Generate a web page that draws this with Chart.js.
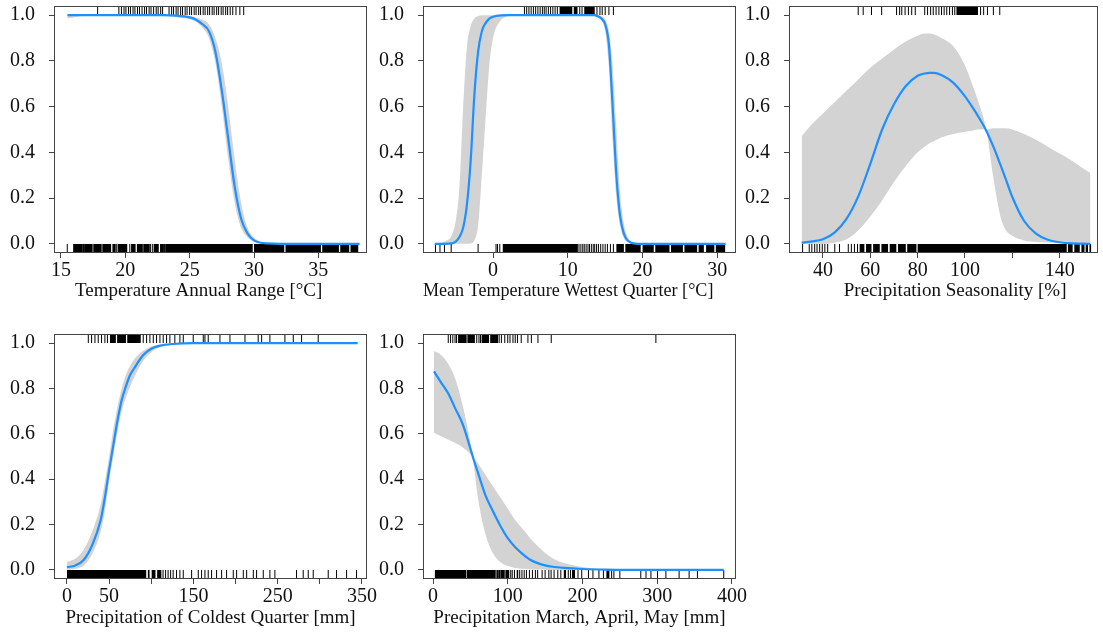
<!DOCTYPE html>
<html>
<head>
<meta charset="utf-8">
<script src="https://cdn.jsdelivr.net/npm/chart.js@4.4.1/dist/chart.umd.min.js"></script>
<style>
  body { margin: 0; background: #fff; width: 1103px; height: 634px; position: relative; overflow: hidden; }
  canvas { position: absolute; }
</style>
</head>
<body>
<canvas id="p1" width="390" height="310" style="left:0;top:0"></canvas>
<canvas id="p2" width="390" height="310" style="left:370px;top:0"></canvas>
<canvas id="p3" width="368" height="310" style="left:735px;top:0"></canvas>
<canvas id="p4" width="390" height="314" style="left:0;top:320px"></canvas>
<canvas id="p5" width="390" height="314" style="left:370px;top:320px"></canvas>
<script>
// ---- data ----
const yTicks = [0, 0.2, 0.4, 0.6, 0.8, 1.0];

// Temperature Annual Range
const p1X     = [15.5, 17, 19, 21, 23, 24, 25, 25.5, 26, 26.5, 27, 27.5, 28, 28.5, 29, 29.5, 30, 30.5, 31, 32, 34, 36, 38.2];
const p1Fit   = [1, 1, 1, 1, 1, 0.998, 0.99, 0.98, 0.96, 0.93, 0.84, 0.67, 0.46, 0.25, 0.11, 0.045, 0.015, 0.005, 0.002, 0, 0, 0, 0];
const p1BandA = [1, 1, 1, 1, 1, 1, 0.996, 0.99, 0.98, 0.96, 0.9, 0.79, 0.6, 0.37, 0.18, 0.07, 0.028, 0.01, 0.003, 0, 0, 0, 0];
const p1BandB = [0.985, 0.998, 1, 1, 0.998, 0.99, 0.982, 0.97, 0.945, 0.9, 0.79, 0.6, 0.37, 0.18, 0.07, 0.028, 0.01, 0.003, 0, 0, 0, 0, 0];
const p1RugTop = [17.85, 19.5, 19.7, 19.9, 20.05, 20.25, 20.4, 20.6, 20.75, 20.95, 21.1, 21.3, 21.5, 21.65, 21.85, 22.0, 22.2, 22.4, 22.55, 22.75, 22.9,
  23.4, 23.6, 23.75, 23.95, 24.1, 24.3, 24.45, 24.65, 24.8, 25.0, 25.15, 25.35, 25.5, 25.7, 25.85, 26.05, 26.2, 26.4, 26.55, 26.75, 26.9,
  27.1, 27.25, 27.45, 27.6, 27.8, 27.95, 28.15, 28.35, 28.6, 28.9, 29.2];
const p1RugTopRuns = [];
const p1RugBottom = [15.49, 16.75, 17.5, 18.2, 19.3, 20.35, 21.35, 21.95, 22.1, 23.05];
const p1RugBottomRuns = [[15.95, 16.7], [16.8, 17.45], [17.55, 18.15], [18.25, 18.9], [19.0, 19.25], [19.4, 20.15], [20.45, 20.8], [20.9, 21.3],
  [21.4, 21.9], [22.2, 22.6], [22.7, 23.0], [23.1, 29.9], [30.0, 32.35], [32.45, 35.2], [35.3, 36.6], [36.7, 37.4], [37.5, 38.1]];

// Mean Temperature Wettest Quarter
const p2X     = [-7.8, -6.5, -5.5, -5, -4.5, -4, -3.5, -3, -2.5, -2, -1.5, -1, -0.5, 0, 1, 2, 4, 8, 12, 13.5, 14, 14.5, 15, 15.5, 16, 16.5, 17, 17.5, 18, 18.5, 19, 20, 25, 31.1];
const p2Fit   = [0, 0, 0.002, 0.01, 0.03, 0.07, 0.17, 0.36, 0.65, 0.84, 0.93, 0.965, 0.985, 0.993, 0.999, 1, 1, 1, 1, 1, 0.995, 0.985, 0.96, 0.87, 0.6, 0.3, 0.12, 0.045, 0.015, 0.005, 0.001, 0, 0, 0];
const p2BandA = [0, 0.01, 0.04, 0.1, 0.25, 0.6, 0.86, 0.95, 0.985, 0.996, 1, 1, 1, 1, 1, 1, 1, 1, 1, 1, 1, 0.995, 0.98, 0.93, 0.78, 0.5, 0.22, 0.09, 0.03, 0.01, 0.003, 0, 0, 0];
const p2BandB = [0, 0, 0, 0, 0, 0, 0, 0.002, 0.015, 0.08, 0.3, 0.55, 0.78, 0.9, 0.975, 0.995, 1, 1, 1, 1, 0.99, 0.975, 0.93, 0.77, 0.45, 0.2, 0.08, 0.025, 0.008, 0.002, 0, 0, 0, 0];
const p2RugTop = [4.2, 4.5, 4.8, 5.1, 5.4, 5.7, 6.0, 6.3, 6.6, 6.85, 7.1, 7.4, 7.7, 8.0, 8.3, 8.6, 11.6, 11.9, 13.9, 14.3, 14.6, 15.0, 15.5, 16.1];
const p2RugTopRuns = [[8.9, 10.6], [10.8, 11.3], [12.2, 13.6]];
const p2RugBottom = [-7.7, -7.1, -6.5, -5.6, -2.0, 0.4, 0.6, 0.9, 11.5, 11.75, 12.0, 12.2, 12.45, 12.7, 12.9, 13.15, 13.4, 13.6, 13.85, 14.1,
  14.4, 14.7, 15.0, 15.3, 15.7, 16.1];
const p2RugBottomRuns = [[1.3, 11.35], [16.5, 17.5], [17.7, 19.75], [20.0, 21.5], [21.7, 23.6], [23.8, 25.4], [25.6, 27.3], [27.5, 28.2],
  [28.5, 29.6], [29.8, 31.05]];

// Precipitation Seasonality
const p3X     = [31, 35, 40, 45, 50, 55, 60, 65, 70, 75, 80, 83, 85, 87, 90, 95, 100, 103, 106, 109, 112, 115, 117, 120, 125, 130, 135, 140, 145, 150, 153];
const p3Fit   = [0.005, 0.01, 0.02, 0.05, 0.11, 0.21, 0.35, 0.5, 0.61, 0.69, 0.735, 0.745, 0.748, 0.748, 0.738, 0.705, 0.645, 0.6, 0.55, 0.495, 0.425,
  0.345, 0.29, 0.205, 0.1, 0.045, 0.018, 0.007, 0.002, 0.001, 0];
const p3BandA = [0.47, 0.52, 0.57, 0.62, 0.67, 0.72, 0.77, 0.81, 0.85, 0.885, 0.91, 0.92, 0.92, 0.915, 0.9, 0.865, 0.78, 0.7, 0.61, 0.5, 0.29,
  0.12, 0.065, 0.035, 0.015, 0.008, 0.006, 0.005, 0.004, 0.003, 0.003];
const p3BandB = [0, 0, 0, 0.005, 0.02, 0.06, 0.12, 0.19, 0.27, 0.34, 0.4, 0.425, 0.44, 0.45, 0.465, 0.48, 0.49, 0.495, 0.5, 0.5, 0.505, 0.505,
  0.505, 0.5, 0.48, 0.455, 0.425, 0.395, 0.365, 0.33, 0.31];
const p3RugTop = [54.9, 57.0, 60.5, 64.8, 71.1, 72.4, 73.3, 74.7, 76.1, 77.5, 79.0, 83.0, 84.2, 85.5, 86.6, 87.8, 89.0, 90.1, 91.2, 92.3, 93.5,
  94.7, 95.7, 106.6, 107.9, 109.5, 112.0, 114.7];
const p3RugTopRuns = [[96.4, 105.5]];
const p3RugBottom = [31.4, 34.2, 35.3, 36.5, 37.5, 38.6, 39.7, 40.8, 42.0, 45.0, 47.0, 50.7, 52.0, 53.3, 54.6];
const p3RugBottomRuns = [[55.5, 57.5], [58.2, 60.5], [61.2, 64.0], [64.7, 67.5], [68.2, 71.0], [71.7, 75.0], [75.6, 79.5], [80.0, 143.0],
  [143.5, 145.5], [146.2, 148.5], [149.2, 150.5], [151.0, 152.0], [152.6, 153.3]];

// Precipitation of Coldest Quarter
const p4X     = [0, 10, 20, 30, 40, 45, 50, 55, 60, 65, 70, 75, 80, 90, 100, 110, 125, 150, 200, 250, 300, 345];
const p4Fit   = [0.012, 0.02, 0.045, 0.11, 0.22, 0.32, 0.44, 0.55, 0.66, 0.75, 0.81, 0.86, 0.89, 0.945, 0.975, 0.988, 0.996, 1, 1, 1, 1, 1];
const p4BandA = [0.035, 0.05, 0.09, 0.17, 0.29, 0.39, 0.5, 0.62, 0.72, 0.8, 0.86, 0.9, 0.93, 0.965, 0.985, 0.994, 0.999, 1, 1, 1, 1, 1];
const p4BandB = [0, 0.005, 0.02, 0.07, 0.17, 0.26, 0.39, 0.5, 0.61, 0.7, 0.76, 0.81, 0.85, 0.92, 0.96, 0.98, 0.993, 1, 1, 1, 1, 1];
const p4RugTop = [25.3, 29.2, 33.2, 37.1, 41.0, 45.0, 48.0, 90.5, 94.5, 98.4, 102.4, 106.3, 110.3, 114.2, 118.2, 122.1, 128.0, 134.0, 138.0,
  149.8, 161.7, 163.7, 167.6, 181.5, 193.4, 211.2, 226.9, 231.0, 240.8, 258.6, 268.5, 278.4, 298.1];
const p4RugTopRuns = [[51, 58], [59.5, 70], [71.5, 87.5]];
const p4RugBottom = [114, 117, 120, 123, 126, 130, 134, 138, 147.9, 155.8, 159.7, 163.7, 167.6, 171.6, 177.5, 183.5, 189.4, 197.3, 201.3,
  209.2, 213.2, 221.1, 225.0, 232.9, 240.8, 246.7, 272.4, 280.3, 286.3, 292.2, 310.0, 319.9, 331.8, 343.6];
const p4RugBottomRuns = [[0, 94], [96, 98], [100.5, 105], [107, 112]];

// Precipitation March, April, May
const p5X     = [1.3, 10, 20, 30, 40, 50, 55, 60, 70, 80, 90, 100, 110, 120, 130, 140, 150, 160, 175, 200, 230, 260, 300, 350, 389];
const p5Fit   = [0.875, 0.83, 0.78, 0.71, 0.64, 0.535, 0.48, 0.43, 0.33, 0.26, 0.195, 0.14, 0.1, 0.07, 0.045, 0.03, 0.02, 0.014, 0.009, 0.004,
  0.001, 0, 0, 0, 0];
const p5BandA = [0.965, 0.95, 0.91, 0.84, 0.72, 0.56, 0.45, 0.32, 0.16, 0.075, 0.035, 0.017, 0.009, 0.005, 0.003, 0.002, 0.001, 0, 0, 0,
  0, 0, 0, 0, 0];
const p5BandB = [0.605, 0.59, 0.575, 0.56, 0.54, 0.51, 0.49, 0.47, 0.42, 0.37, 0.32, 0.27, 0.22, 0.18, 0.14, 0.105, 0.075, 0.052, 0.03, 0.013,
  0.004, 0.001, 0, 0, 0];
const p5RugTop = [20.4, 23.5, 26.5, 29.5, 31.5, 58.5, 61.5, 63.5, 88.5, 91.5, 96, 100, 103, 107, 110, 113, 118, 127, 131.6, 140.4, 158.2, 298.2];
const p5RugTopRuns = [[33.5, 45], [46, 56], [65, 75], [76.5, 87]];
const p5RugBottom = [84, 89, 96, 104, 106, 109, 116, 119, 122, 125, 129, 133, 137, 140, 146, 150, 155, 158, 162, 167, 171, 181, 184, 194, 199,
  208, 214, 222, 228, 239, 242, 250, 278, 285, 291.6, 300.4, 311.6, 329.3, 342.7, 353.8, 389];
const p5RugBottomRuns = [[2.5, 44.5], [45.3, 83], [85, 88], [90, 95], [97, 102], [112, 114], [175, 178], [186, 190], [232, 236]];

// ---- styling ----
const BLUE = '#1e90ff';
const GREY = '#d3d3d3';
const AXIS = '#444';
const FONT = { family: "'Liberation Serif', 'Times New Roman', serif", size: 19 };
const TICKFONT = { family: "'Liberation Serif', 'Times New Roman', serif", size: 20 };
const NB = '\u00a0\u00a0\u00a0\u00a0\u00a0'; // nudges a centred title sideways, like the original

// frame around the plotting region
const boxPlugin = {
  id: 'box',
  afterDraw(chart) {
    const a = chart.chartArea;
    const c = chart.ctx;
    c.save();
    c.strokeStyle = AXIS;
    c.lineWidth = 1;
    c.strokeRect(Math.round(a.left) + 0.5, Math.round(a.top) + 0.5, Math.round(a.right - a.left) - 1, Math.round(a.bottom - a.top) - 1);
    c.restore();
  }
};

function pts(xs, ys) { return xs.map((x, i) => ({ x: x, y: ys[i] })); }
function rug(xs, y) { return xs.map(x => ({ x: x, y: y })); }
function runs(rs, y) {
  const out = [];
  rs.forEach(r => { out.push({ x: r[0], y: y }, { x: r[1], y: y }, { x: r[1], y: null }); });
  return out;
}

function makePanel(cfg) {
  const rugTick = { showLine: false, pointStyle: 'line', pointRotation: 90, pointRadius: 4.5,
                    pointBorderColor: '#000', pointBorderWidth: 1, order: 1 };
  const rugRun = { borderColor: '#000', borderWidth: 9, pointRadius: 0, spanGaps: false, fill: false, order: 1 };
  new Chart(document.getElementById(cfg.id), {
    type: 'line',
    data: {
      datasets: [
        { data: pts(cfg.x, cfg.bandA), borderWidth: 0, pointRadius: 0, fill: false, order: 3, cubicInterpolationMode: 'monotone' },
        { data: pts(cfg.x, cfg.bandB), borderWidth: 0, pointRadius: 0, fill: '-1', backgroundColor: GREY, order: 2, cubicInterpolationMode: 'monotone' },
        { data: pts(cfg.x, cfg.fit), borderColor: BLUE, borderWidth: 2.2, pointRadius: 0, fill: false, order: 0, cubicInterpolationMode: 'monotone' },
        Object.assign({ data: rug(cfg.rugTop, 1.02) }, rugTick),
        Object.assign({ data: rug(cfg.rugBottom, -0.02) }, rugTick),
        Object.assign({ data: runs(cfg.rugTopRuns, 1.02) }, rugRun),
        Object.assign({ data: runs(cfg.rugBottomRuns, -0.02) }, rugRun)
      ]
    },
    options: {
      responsive: false,
      animation: false,
      devicePixelRatio: 1,
      events: [],
      layout: { padding: { left: 0, right: cfg.padR, top: cfg.padT, bottom: 0 } },
      plugins: { legend: { display: false }, tooltip: { enabled: false } },
      scales: {
        x: {
          type: 'linear', min: cfg.xMin, max: cfg.xMax,
          afterBuildTicks: s => { s.ticks = cfg.xTicks.map(v => ({ value: v })); },
          afterFit: s => { s.height = cfg.axisH; s.paddingLeft = 0; s.paddingRight = 0; },
          ticks: { callback: v => (cfg.xLabels.indexOf(v) >= 0 ? String(v) : ''), font: TICKFONT, color: '#111',
                   padding: 1, maxRotation: 0, autoSkip: false },
          grid: { drawOnChartArea: false, tickLength: 5, color: AXIS },
          border: { display: false },
          title: { display: true, text: cfg.title, font: FONT, color: '#111', padding: { top: 0, bottom: cfg.titlePad } }
        },
        y: {
          min: -0.04, max: 1.04,
          afterBuildTicks: s => { s.ticks = yTicks.map(v => ({ value: v })); },
          afterFit: s => { s.width = cfg.yW; s.paddingTop = 0; s.paddingBottom = 0; },
          ticks: { callback: v => v.toFixed(1), font: TICKFONT, color: '#111', padding: 14 },
          grid: { drawOnChartArea: false, tickLength: 5, color: AXIS },
          border: { display: false }
        }
      }
    },
    plugins: [boxPlugin]
  });
}

const row1 = { padT: 6, axisH: 57, titlePad: 7.6 };
const row2 = { padT: 14, axisH: 55, titlePad: 4.6 };

makePanel(Object.assign({ id: 'p1', yW: 54, padR: 23, xMin: 14.46, xMax: 38.78, xTicks: [15, 20, 25, 30, 35], xLabels: [15, 20, 25, 30, 35],
  title: 'Temperature Annual Range [°C]' + NB, x: p1X, fit: p1Fit, bandA: p1BandA, bandB: p1BandB,
  rugTop: p1RugTop, rugTopRuns: p1RugTopRuns, rugBottom: p1RugBottom, rugBottomRuns: p1RugBottomRuns }, row1));

makePanel(Object.assign({ id: 'p2', yW: 53, padR: 24, xMin: -9.37, xMax: 32.5, xTicks: [0, 10, 20, 30], xLabels: [0, 10, 20, 30],
  title: 'Mean Temperature Wettest Quarter [°C]' + NB, x: p2X, fit: p2Fit, bandA: p2BandA, bandB: p2BandB,
  rugTop: p2RugTop, rugTopRuns: p2RugTopRuns, rugBottom: p2RugBottom, rugBottomRuns: p2RugBottomRuns }, row1));

makePanel(Object.assign({ id: 'p3', yW: 54, padR: 5, xMin: 25.65, xMax: 156, xTicks: [40, 60, 80, 100, 120, 140], xLabels: [40, 60, 80, 100, 140],
  title: NB + 'Precipitation Seasonality [%]', x: p3X, fit: p3Fit, bandA: p3BandA, bandB: p3BandB,
  rugTop: p3RugTop, rugTopRuns: p3RugTopRuns, rugBottom: p3RugBottom, rugBottomRuns: p3RugBottomRuns }, row1));

makePanel(Object.assign({ id: 'p4', yW: 54, padR: 23, xMin: -15.4, xMax: 356, xTicks: [0, 50, 100, 150, 200, 250, 300, 350], xLabels: [0, 50, 150, 250, 350],
  title: 'Precipitation of Coldest Quarter [mm]', x: p4X, fit: p4Fit, bandA: p4BandA, bandB: p4BandB,
  rugTop: p4RugTop, rugTopRuns: p4RugTopRuns, rugBottom: p4RugBottom, rugBottomRuns: p4RugBottomRuns }, row2));

makePanel(Object.assign({ id: 'p5', yW: 53, padR: 24, xMin: -13.4, xMax: 405.4, xTicks: [0, 100, 200, 300, 400], xLabels: [0, 100, 200, 300, 400],
  title: 'Precipitation March, April, May [mm]', x: p5X, fit: p5Fit, bandA: p5BandA, bandB: p5BandB,
  rugTop: p5RugTop, rugTopRuns: p5RugTopRuns, rugBottom: p5RugBottom, rugBottomRuns: p5RugBottomRuns }, row2));
</script>
</body>
</html>
